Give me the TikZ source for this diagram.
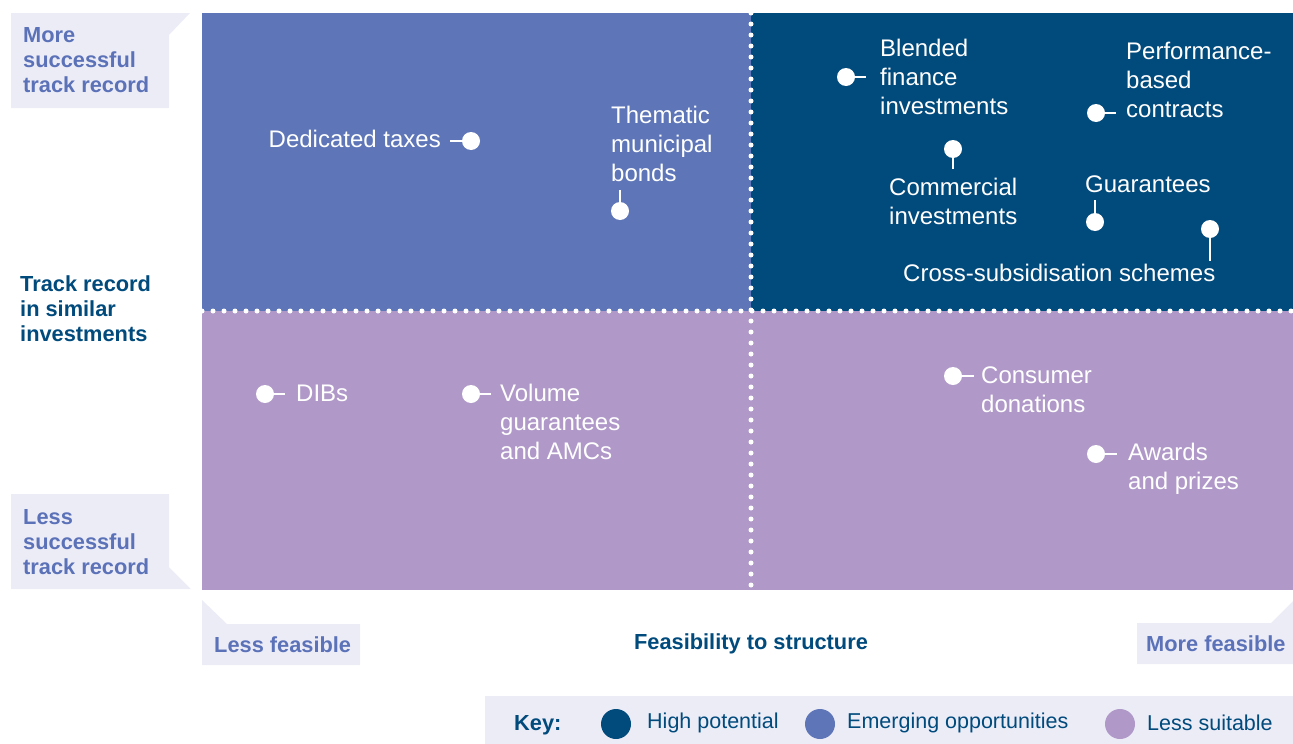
\documentclass[tikz,border=0pt]{standalone}
\usepackage{fontspec}
\setmainfont{Liberation Sans}
\definecolor{hipot}{RGB}{0,74,124}
\definecolor{emerg}{RGB}{94,118,184}
\definecolor{lesss}{RGB}{176,153,200}
\definecolor{lightbg}{RGB}{236,236,247}
\definecolor{lbltxt}{RGB}{91,114,184}
\tikzset{
  dot/.style={circle, fill=white, inner sep=0pt, minimum size=18pt},
  stub/.style={draw=white, line width=2.5pt},
  lbl/.style={text=white, inner sep=0pt, align=left, font=\fontsize{24}{29}\selectfont},
  axlbl/.style={text=lbltxt, inner sep=0pt, align=left, font=\fontsize{21.8}{25}\selectfont\bfseries},
  axtitle/.style={text=hipot, inner sep=0pt, align=left, font=\fontsize{21.8}{25}\selectfont\bfseries},
  keytxt/.style={text=hipot, inner sep=0pt, anchor=west, font=\fontsize{21.5}{25}\selectfont},
  keydot/.style={circle, inner sep=0pt, minimum size=30pt},
  dotline/.style={white, line width=5pt, line cap=round, dash pattern=on 0pt off 11pt},
  labbox/.style={fill=lightbg, draw=none}
}
\begin{document}
\begin{tikzpicture}[x=1pt,y=-1pt]
\useasboundingbox (0,0) rectangle (1293,744);
% quadrants
\fill[emerg] (202,13) rectangle (751,311);
\fill[hipot] (751,13) rectangle (1293,311);
\fill[lesss] (202,311) rectangle (1293,590);
\draw[dotline] (202,311) -- (1293,311);
\draw[dotline] (751,13) -- (751,590);
% axis label boxes
\fill[labbox] (11,13) -- (190,13) -- (169,35) -- (169,108) -- (11,108) -- cycle;
\fill[labbox] (11,494) -- (169,494) -- (169,567) -- (191,589) -- (11,589) -- cycle;
\fill[labbox] (202,600) -- (227,624) -- (360,624) -- (360,665) -- (202,665) -- cycle;
\fill[labbox] (1137,623) -- (1271,623) -- (1293,601) -- (1293,664) -- (1137,664) -- cycle;
\node[axlbl, anchor=west] (more) at (23,60) {More\\successful\\track record};
\node[axlbl, anchor=west] (less) at (23,542) {Less\\successful\\track record};
\node[axtitle, anchor=west] (track) at (20,309) {Track record\\in similar\\investments};
\node[axlbl, anchor=west] (lessf) at (214,645) {Less feasible};
\node[axlbl, anchor=west] (moref) at (1146,644) {More feasible};
\node[axtitle] (feas) at (751,644) {Feasibility to structure};
% items: top-left
\node[dot] (dtd) at (471,141) {};
\node[lbl, anchor=east] (dtt) at (441,139) {Dedicated taxes};
\coordinate (dts) at (450,141);
\draw[stub] (dtd.center) -- (dts);
\node[dot] (tmd) at (620,211) {};
\node[lbl, anchor=west] (tmt) at (611,144) {Thematic\\municipal\\bonds};
\coordinate (tms) at (620,190);
\draw[stub] (tmd.center) -- (tms);
% items: top-right
\node[dot] (bfd) at (846,77) {};
\node[lbl, anchor=west] (bft) at (880,77) {Blended\\finance\\investments};
\coordinate (bfs) at (866,77);
\draw[stub] (bfd.center) -- (bfs);
\node[dot] (pbd) at (1096,113) {};
\node[lbl, anchor=west] (pbt) at (1126,80) {Performance-\\based\\contracts};
\coordinate (pbs) at (1116,113);
\draw[stub] (pbd.center) -- (pbs);
\node[dot] (cid) at (953,149) {};
\node[lbl, anchor=west] (cit) at (889,201) {Commercial\\investments};
\coordinate (cis) at (953,169);
\draw[stub] (cid.center) -- (cis);
\node[dot] (gud) at (1095,222) {};
\node[lbl, anchor=west] (gut) at (1085,184) {Guarantees};
\coordinate (gus) at (1095,200);
\draw[stub] (gud.center) -- (gus);
\node[dot] (csd) at (1210,229) {};
\node[lbl, anchor=west] (cst) at (903,273) {Cross-subsidisation schemes};
\coordinate (css) at (1210,261);
\draw[stub] (csd.center) -- (css);
% items: bottom-left
\node[dot] (dbd) at (265,394) {};
\node[lbl, anchor=west] (dbt) at (296,393) {DIBs};
\coordinate (dbs) at (285,394);
\draw[stub] (dbd.center) -- (dbs);
\node[dot] (vgd) at (471,394) {};
\node[lbl, anchor=west] (vgt) at (500,422) {Volume\\guarantees\\and AMCs};
\coordinate (vgs) at (491,394);
\draw[stub] (vgd.center) -- (vgs);
% items: bottom-right
\node[dot] (cdd) at (953,376) {};
\node[lbl, anchor=west] (cdt) at (981,390) {Consumer\\donations};
\coordinate (cds) at (974,376);
\draw[stub] (cdd.center) -- (cds);
\node[dot] (apd) at (1096,454) {};
\node[lbl, anchor=west] (apt) at (1128,469) {Awards\\and prizes};
\coordinate (aps) at (1117,454);
\draw[stub] (apd.center) -- (aps);
% key
\fill[lightbg] (485,696) rectangle (1293,744);
\node[axtitle, anchor=west] (key) at (514,725) {Key:};
\node[keydot, fill=hipot] (k1) at (616,724) {};
\node[keytxt] (k1t) at (647,723) {High potential};
\node[keydot, fill=emerg] (k2) at (820,724) {};
\node[keytxt] (k2t) at (847,723) {Emerging opportunities};
\node[keydot, fill=lesss] (k3) at (1120,724) {};
\node[keytxt] (k3t) at (1147,723) {Less suitable};
\end{tikzpicture}
\end{document}
